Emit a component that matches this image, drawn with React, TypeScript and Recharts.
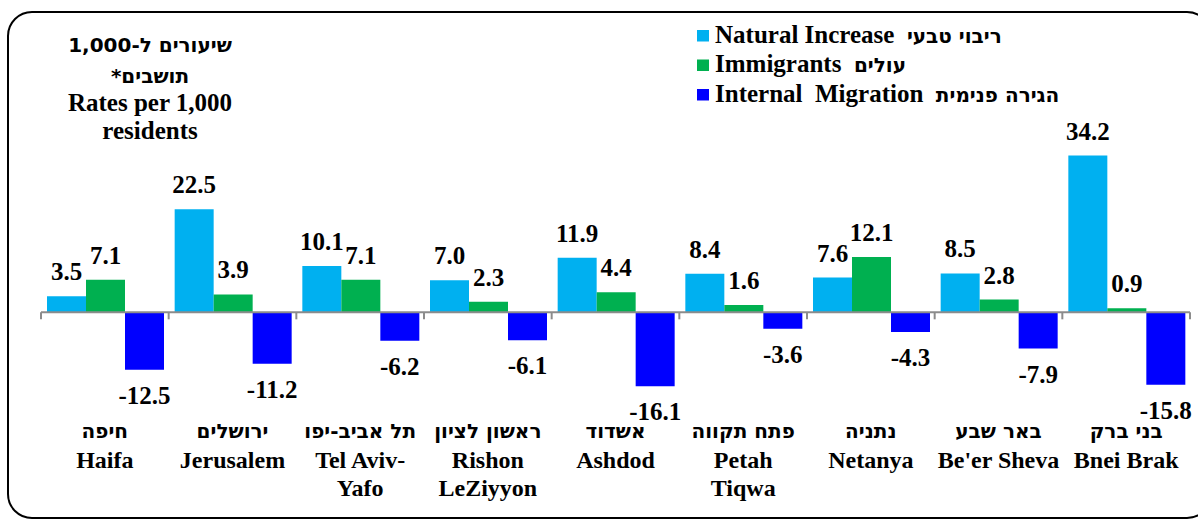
import React from 'react';
import { BarChart, Bar, XAxis, YAxis, ReferenceLine, LabelList } from 'recharts';

const FONT = "'Liberation Serif', 'Times New Roman', serif";
const HEB = "'DejaVu Sans', 'Liberation Sans', sans-serif";

const cityHe = ['חיפה', 'ירושלים', 'תל אביב-יפו', 'ראשון לציון', 'אשדוד', 'פתח תקווה', 'נתניה', 'באר שבע', 'בני ברק'];
const cityEn = [['Haifa'], ['Jerusalem'], ['Tel Aviv-', 'Yafo'], ['Rishon', 'LeZiyyon'], ['Ashdod'], ['Petah', 'Tiqwa'], ['Netanya'], ["Be'er Sheva"], ['Bnei Brak']];
const natural = [3.5, 22.5, 10.1, 7.0, 11.9, 8.4, 7.6, 8.5, 34.2];
const immigrants = [7.1, 3.9, 7.1, 2.3, 4.4, 1.6, 12.1, 2.8, 0.9];
const internal = [-12.5, -11.2, -6.2, -6.1, -16.1, -3.6, -4.3, -7.9, -15.8];

const titleHe = ['שיעורים ל-1,000', 'תושבים*'];
const titleEn = ['Rates per 1,000', 'residents'];
const seriesKeys = ['natural', 'immigrants', 'internal'];
const seriesEn = ['Natural Increase', 'Immigrants', 'Internal  Migration'];
const seriesHe = ['ריבוי טבעי', 'עולים', 'הגירה פנימית'];
const seriesColors = ['#00B0F0', '#00B050', '#0000FF'];

const rows = cityEn.map((_, i) => ({
  idx: i,
  natural: natural[i],
  immigrants: immigrants[i],
  internal: internal[i],
}));

const textStyle = { fontFamily: FONT, fontWeight: 700, fontSize: 25, fill: '#000' } as const;
const hebStyle = { fontFamily: HEB, fontWeight: 700, fontSize: 20, fill: '#000' } as const;

const renderTick = (props: any) => {
  const { x, y, payload } = props;
  const i = Number(payload.value);
  const en = cityEn[i] || [];
  return (
    <g>
      <text x={x} y={y + 34} textAnchor="middle" direction="rtl" {...hebStyle}>
        {cityHe[i]}
      </text>
      {en.map((line, k) => (
        <text key={k} x={x} y={y + 64 + k * 27.5} textAnchor="middle" {...textStyle} fontSize={24}>
          {line}
        </text>
      ))}
    </g>
  );
};

const renderValue = (props: any) => {
  const vb = props.viewBox && props.viewBox.width !== undefined ? props.viewBox : props;
  const x = Number(vb.x);
  const y = Number(vb.y);
  const w = Number(vb.width);
  const h = Number(vb.height);
  const top = Math.min(y, y + h);
  const bottom = Math.max(y, y + h);
  const v = Number(props.value);
  return (
    <text x={x + w / 2} y={v >= 0 ? top - 16 : bottom + 34} textAnchor="middle" {...textStyle}>
      {v.toFixed(1)}
    </text>
  );
};

const ZeroAxis = (props: any) => {
  const x1 = Number(props.x1);
  const x2 = Number(props.x2);
  const y = Number(props.y1);
  const n = cityEn.length;
  const step = (x2 - x1) / n;
  return (
    <g>
      <line x1={x1} x2={x2} y1={y} y2={y} stroke="#8c8c8c" strokeWidth={2} />
      {Array.from({ length: n + 1 }, (_, i) => (
        <line key={i} x1={x1 + i * step} x2={x1 + i * step} y1={y} y2={y + 7} stroke="#8c8c8c" strokeWidth={2} />
      ))}
    </g>
  );
};

export default function App() {
  return (
    <div
      style={{
        position: 'fixed',
        left: 0,
        top: 0,
        width: 1198,
        height: 521,
        overflow: 'hidden',
        background: '#fff',
      }}
    >
      <div
        style={{
          position: 'absolute',
          left: 7,
          top: 11,
          width: 1205,
          height: 508,
          boxSizing: 'border-box',
          border: '2px solid #000',
          borderRadius: 25,
        }}
      />
      <div style={{ position: 'absolute', left: 0, top: 0 }}>
        <BarChart
          width={1198}
          height={521}
          data={rows}
          margin={{ top: 129, right: 8, left: 41, bottom: 0 }}
          barCategoryGap="4.7%"
          barGap={0}
        >
          <XAxis
            dataKey="idx"
            type="category"
            height={117}
            axisLine={false}
            tickLine={false}
            tickSize={0}
            tickMargin={0}
            interval={0}
            tick={renderTick}
          />
          <YAxis hide domain={[-20, 40]} ticks={[-20, 0, 20, 40]} allowDataOverflow />
          {seriesKeys.map((k, i) => (
            <Bar key={k} dataKey={k} fill={seriesColors[i]} isAnimationActive={false}>
              <LabelList dataKey={k} content={renderValue} />
            </Bar>
          ))}
          <ReferenceLine y={0} shape={ZeroAxis} />
        </BarChart>
      </div>
      <svg
        width={1198}
        height={521}
        style={{ position: 'absolute', left: 0, top: 0, pointerEvents: 'none' }}
      >
        {titleHe.map((t, i) => (
          <text key={'h' + i} x={150} y={[52, 83][i]} textAnchor="middle" direction="rtl" {...hebStyle}>
            {t}
          </text>
        ))}
        {titleEn.map((t, i) => (
          <text key={'e' + i} x={150} y={[111, 139][i]} textAnchor="middle" {...textStyle}>
            {t}
          </text>
        ))}
        {seriesEn.map((name, i) => (
          <g key={name}>
            <rect x={697} y={30 + i * 29.5} width={12} height={11.5} fill={seriesColors[i]} />
            <text x={715} y={42.5 + i * 29.5} {...textStyle} style={{ whiteSpace: 'pre' }}>
              <tspan>{name + '  '}</tspan>
              <tspan {...hebStyle}>{seriesHe[i]}</tspan>
            </text>
          </g>
        ))}
      </svg>
    </div>
  );
}
